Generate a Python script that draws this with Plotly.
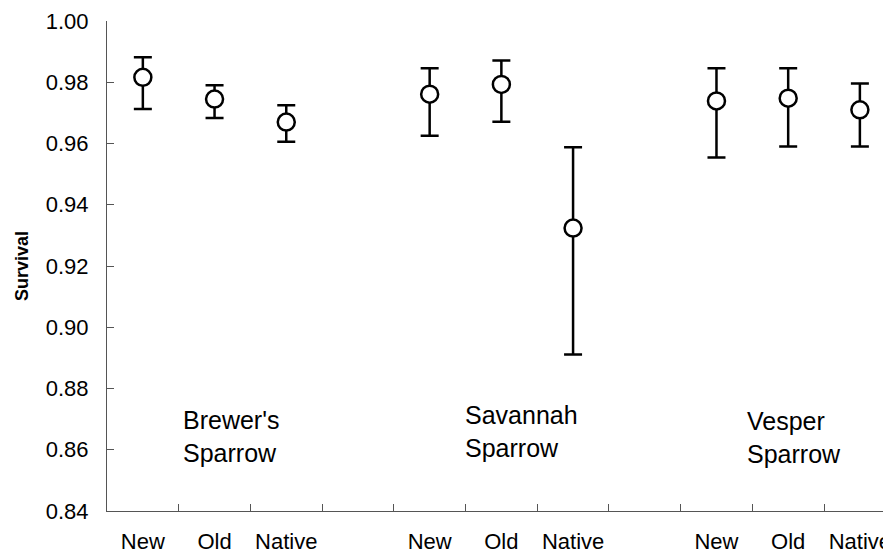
import plotly.graph_objects as go

# ---- data ----
categories = ["New", "Old", "Native", "", "New", "Old", "Native", "", "New", "Old", "Native"]
positions = [1, 2, 3, 5, 6, 7, 9, 10, 11]
survival = [0.9816, 0.9745, 0.9670, 0.9761, 0.9793, 0.9324, 0.9739, 0.9748, 0.9710]
upper = [0.9882, 0.9790, 0.9725, 0.9846, 0.9871, 0.9588, 0.9846, 0.9846, 0.9796]
lower = [0.9713, 0.9683, 0.9606, 0.9625, 0.9671, 0.8911, 0.9554, 0.9590, 0.9590]
species = ["Brewer's<br>Sparrow", "Savannah<br>Sparrow", "Vesper<br>Sparrow"]
species_x = [1.53, 5.465, 9.40]
species_y = [0.8643, 0.8661, 0.8641]
boundaries = [1.5, 2.5, 3.5, 4.5, 5.5, 6.5, 7.5, 8.5, 9.5, 10.5]

err_plus = [u - s for u, s in zip(upper, survival)]
err_minus = [s - l for s, l in zip(survival, lower)]

FONT = "Liberation Sans, Arial, sans-serif"
AXC = "#555555"

fig = go.Figure()
fig.add_trace(go.Scatter(
    x=positions, y=survival, mode="markers",
    marker=dict(symbol="circle", size=17, color="white",
                line=dict(color="black", width=2.5)),
    error_y=dict(type="data", symmetric=False, array=err_plus,
                 arrayminus=err_minus, color="black", thickness=2.5, width=9),
    showlegend=False, hoverinfo="skip",
))

xr = [0.5, 11.434]
fig.update_layout(
    width=883, height=546,
    margin=dict(l=99, r=0, t=13, b=43, autoexpand=False),
    plot_bgcolor="white", paper_bgcolor="white",
    font=dict(family=FONT, color="black"),
    xaxis=dict(range=xr, tickmode="array", tickvals=boundaries,
               ticktext=[""] * len(boundaries), ticks="inside", ticklen=7,
               tickcolor=AXC, tickwidth=1, showline=True, linecolor=AXC,
               linewidth=1, showgrid=False, zeroline=False, automargin=False),
    xaxis2=dict(range=xr, overlaying="x", anchor="y", side="bottom",
                tickmode="array", tickvals=list(range(1, 12)),
                ticktext=categories, ticks="", showline=False,
                showgrid=False, zeroline=False, ticklabelstandoff=15,
                ticklabeloverflow="allow", automargin=False,
                tickfont=dict(size=22, family=FONT, color="black")),
    yaxis=dict(range=[0.84, 1.00], tickmode="array",
               tickvals=[0.84, 0.86, 0.88, 0.90, 0.92, 0.94, 0.96, 0.98, 1.00],
               tickformat=".2f", ticks="inside", ticklen=7, tickcolor=AXC,
               tickwidth=1, showline=True, linecolor=AXC, linewidth=1,
               showgrid=False, zeroline=False, ticklabelstandoff=13,
               automargin=False,
               tickfont=dict(size=22, family=FONT, color="black"),
               title=dict(text="<b>Survival</b>", standoff=12,
                          font=dict(size=18, family=FONT, color="black"))),
)
# invisible trace to activate xaxis2
fig.add_trace(go.Scatter(x=[None], y=[None], xaxis="x2", showlegend=False,
                         hoverinfo="skip"))

for t, xx, yy in zip(species, species_x, species_y):
    fig.add_annotation(x=xx, y=yy, xref="x", yref="y", text=t,
                       showarrow=False, xanchor="left", yanchor="middle",
                       align="left",
                       font=dict(size=25, family=FONT, color="black"))

fig.write_html("out.html")
